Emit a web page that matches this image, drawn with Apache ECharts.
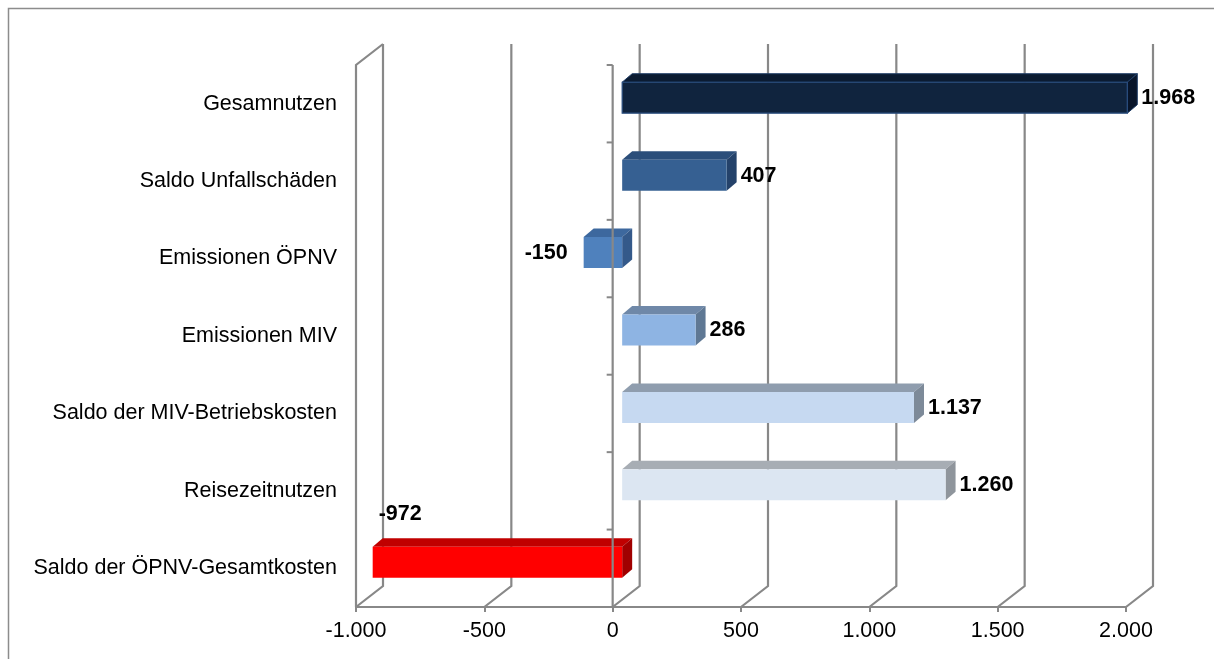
<!DOCTYPE html>
<html>
<head>
<meta charset="utf-8">
<script src="https://cdn.jsdelivr.net/npm/echarts@6/dist/echarts.min.js"></script>
<style>
html,body{margin:0;padding:0;background:#fff;}
#chart{width:1214px;height:659px;}
</style>
</head>
<body>
<div id="chart"></div>
<script>
// ---- data ----
const categories = ['Gesamnutzen','Saldo Unfallschäden','Emissionen ÖPNV','Emissionen MIV','Saldo der MIV-Betriebskosten','Reisezeitnutzen','Saldo der ÖPNV-Gesamtkosten'];
const values = [1968, 407, -150, 286, 1137, 1260, -972];
const xTicks = [-1000, -500, 0, 500, 1000, 1500, 2000];

// ---- styles ----
const frontColors = ['#10243E','#366092','#4F81BD','#8EB4E3','#C6D9F1','#DCE6F2','#FF0000'];
const topColors   = ['#0B1B31','#2B4E7A','#3D689E','#6F88A8','#8F9DAE','#A7ADB4','#C00000'];
const sideColors  = ['#08152A','#24426A','#34598A','#5F7894','#7D8A99','#8F959C','#A00000'];
const GRID = '#888888';
const FONT = "'Liberation Sans', Arial, sans-serif";
const BACK = [27, -21];      // back-plane shift
const FRONT = [9.5, -6];     // bar front face shift
const DEPTH = [10, -8.5];    // bar depth

function fmt(v){
  const s = Math.abs(Math.round(v)).toString().replace(/\B(?=(\d{3})+(?!\d))/g, '.');
  return (v < 0 ? '-' : '') + s;
}

const chart = echarts.init(document.getElementById('chart'));

function renderFrame(params, api){
  const cs = params.coordSys;
  const t = api.value(0);
  const x = api.coord([t, 0])[0];
  const bottom = cs.y + cs.height, top = cs.y;
  const children = [{
    type:'polyline',
    shape:{points:[[x,bottom],[x+BACK[0],bottom+BACK[1]],[x+BACK[0],top+BACK[1]]]},
    style:{stroke:GRID, lineWidth:2.2, fill:null}
  }];
  if (params.dataIndex === 0){
    children.push({
      type:'polyline',
      shape:{points:[[x,bottom],[x,top],[x+BACK[0],top+BACK[1]]]},
      style:{stroke:GRID, lineWidth:2.2, fill:null}
    });
  }
  return {type:'group', children};
}

function renderFrontAxis(params, api){
  const cs = params.coordSys;
  const x = api.coord([0, 0])[0];
  const bandH = api.size([0,1])[1];
  const top = cs.y, bottom = cs.y + cs.height;
  const children = [{
    type:'line', shape:{x1:x,y1:top,x2:x,y2:bottom},
    style:{stroke:GRID, lineWidth:2.2}
  }];
  for (let k = 0; k <= categories.length; k++){
    const y = top + k*bandH;
    children.push({type:'line', shape:{x1:x-6,y1:y,x2:x,y2:y}, style:{stroke:GRID, lineWidth:2}});
  }
  return {type:'group', children};
}

function renderBar(params, api){
  const cs = params.coordSys;
  const v = api.value(0), idx = api.value(1);
  const pz = api.coord([0, idx]);
  const pv = api.coord([v, idx]);
  const bandH = api.size([0,1])[1];
  const h = bandH * 0.4;
  const xl = Math.min(pz[0], pv[0]) + FRONT[0];
  const xr = Math.max(pz[0], pv[0]) + FRONT[0];
  const yc = pz[1] + FRONT[1];
  const yt = yc - h/2, yb = yc + h/2;
  const i = params.dataIndex;
  const dark = i === 0;
  const children = [
    {type:'polygon', shape:{points:[[xl,yt],[xr,yt],[xr+DEPTH[0],yt+DEPTH[1]],[xl+DEPTH[0],yt+DEPTH[1]]]},
      style:{fill:topColors[i], stroke: dark ? '#1F3D66' : null, lineWidth:1}},
    {type:'polygon', shape:{points:[[xr,yt],[xr+DEPTH[0],yt+DEPTH[1]],[xr+DEPTH[0],yb+DEPTH[1]],[xr,yb]]},
      style:{fill:sideColors[i], stroke: dark ? '#1F3D66' : null, lineWidth:1}},
    {type:'rect', shape:{x:xl,y:yt,width:xr-xl,height:h},
      style:{fill:frontColors[i], stroke: dark ? '#2A4E80' : null, lineWidth:1.2}}
  ];
  let tx, ty, align;
  if (v >= 0){
    tx = xr + DEPTH[0] + 4; ty = yc + 0.5; align = 'left';
  } else if (xl - 80 > cs.x){
    tx = xl - 16; ty = yc + 0.5; align = 'right';
  } else {
    tx = xl + 6; ty = yt + DEPTH[1] - 24; align = 'left';
  }
  children.push({
    type:'text', z2:10,
    style:{text:fmt(v), x:tx, y:ty, align:align, verticalAlign:'middle',
      fill:'#000', font:"bold 21.5px " + FONT}
  });
  return {type:'group', children};
}

chart.setOption({
  animation:false,
  backgroundColor:'#fff',
  graphic:[{type:'rect', shape:{x:8.5,y:8.5,width:1300,height:800},
    style:{fill:null, stroke:'#8C8C8C', lineWidth:1.5}, z:-10}],
  grid:{left:356, top:65, width:770, height:542},
  xAxis:{
    type:'value', min:-1000, max:2000, interval:500,
    axisLine:{show:true, lineStyle:{color:GRID, width:2.2}},
    axisTick:{show:true, length:5, lineStyle:{color:GRID, width:2}},
    splitLine:{show:false},
    axisLabel:{formatter:fmt, fontSize:21.5, color:'#000', fontFamily:FONT, margin:13}
  },
  yAxis:{
    type:'category', data:categories, inverse:true,
    axisLine:{show:false}, axisTick:{show:false}, splitLine:{show:false},
    axisLabel:{fontSize:21.5, color:'#000', fontFamily:FONT, margin:19}
  },
  series:[
    {type:'custom', name:'frame', z:1, silent:true, renderItem:renderFrame,
      data:xTicks.map(t => [t, 0]), encode:{x:0, y:1}},
    {type:'custom', name:'bars', z:2, renderItem:renderBar,
      data:values.map((v,i) => [v, i]), encode:{x:0, y:1}},
    {type:'custom', name:'axis', z:3, silent:true, renderItem:renderFrontAxis,
      data:[[0,0]], encode:{x:0, y:1}}
  ]
});
</script>
</body>
</html>
